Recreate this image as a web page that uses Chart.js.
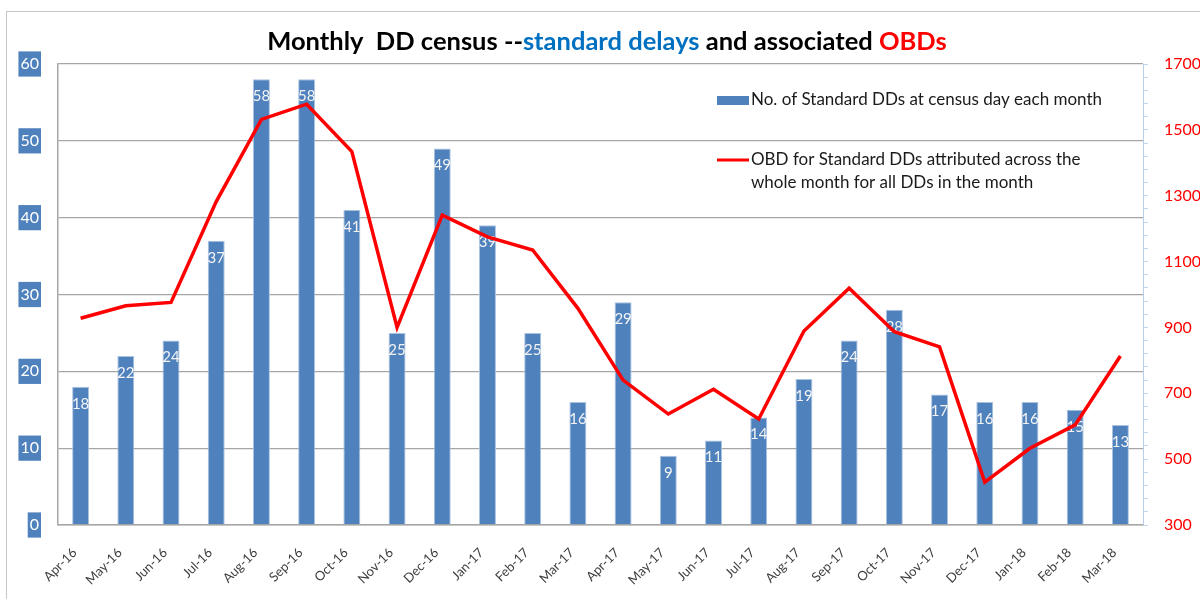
<!DOCTYPE html>
<html>
<head>
<meta charset="utf-8">
<title>Monthly DD census</title>
<script src="https://cdn.jsdelivr.net/npm/chart.js@4.4.1/dist/chart.umd.min.js"></script>
<style>
  body { margin: 0; background: #fff; }
  #frame { position: absolute; left: 6px; top: 11px; width: 1210px; height: 600px; border: 1px solid #c6c6c6; }
  #wrap { position: absolute; left: 0; top: 0; width: 1200px; height: 599px; }
</style>
</head>
<body>
<div id="frame"></div>
<div id="wrap"><canvas id="ddChart"></canvas></div>
<script>
// months on the x axis
const months = ['Apr-16', 'May-16', 'Jun-16', 'Jul-16', 'Aug-16', 'Sep-16', 'Oct-16', 'Nov-16', 'Dec-16',
    'Jan-17', 'Feb-17', 'Mar-17', 'Apr-17', 'May-17', 'Jun-17', 'Jul-17', 'Aug-17', 'Sep-17', 'Oct-17',
    'Nov-17', 'Dec-17', 'Jan-18', 'Feb-18', 'Mar-18'];

// bars: number of standard DDs on census day
const standardDDs = [18, 22, 24, 37, 58, 58, 41, 25, 49, 39, 25, 16, 29, 9, 11, 14, 19, 24, 28, 17, 16, 16, 15, 13];

// line: OBDs
const obdValues = [928, 966, 976, 1282, 1532, 1578, 1434, 900, 1241, 1175, 1135, 958,
    740, 637, 712, 622, 889, 1019, 887, 841, 430, 533, 604, 813];

// axis ranges
const leftMin = 0, leftMax = 60, leftStep = 10;
const rightMin = 300, rightMax = 1700, rightStep = 40, rightLabelStep = 200;

const barLabel = 'No. of Standard DDs at census day each month';
const lineLabel = ['OBD for Standard DDs attributed across the', 'whole month for all DDs in the month'];

const titleParts = [
    { text: 'Monthly  DD census --', color: '#000000' },
    { text: 'standard delays', color: '#0070C0' },
    { text: ' and associated ', color: '#000000' },
    { text: 'OBDs', color: '#FF0000' },
];

const fontFam = 'Lato, "Open Sans", sans-serif';

// title drawn in several colours
const titlePlugin = {
    id: 'multiTitle',
    afterDraw(chart) {
        const ctx = chart.ctx;
        ctx.save();
        ctx.font = 'bold 25.5px ' + fontFam;
        ctx.textBaseline = 'middle';
        ctx.textAlign = 'left';
        const total = titleParts.reduce((s, p) => s + ctx.measureText(p.text).width, 0);
        let x = 607 - total / 2;
        titleParts.forEach((p) => {
            ctx.fillStyle = p.color;
            ctx.fillText(p.text, x, 42);
            x += ctx.measureText(p.text).width;
        });
        ctx.restore();
    }
};

// white values inside the top of each bar
const barValuePlugin = {
    id: 'barValues',
    afterDatasetDraw(chart, args) {
        if (args.index !== 0) return;
        const ctx = chart.ctx;
        ctx.save();
        ctx.font = '15px ' + fontFam;
        ctx.fillStyle = '#f4f4f4';
        ctx.textAlign = 'center';
        ctx.textBaseline = 'middle';
        args.meta.data.forEach((bar, i) => {
            ctx.fillText(String(standardDDs[i]), bar.x, bar.y + 17);
        });
        ctx.restore();
    }
};

// legend placed inside the plot like the original
const legendPlugin = {
    id: 'insideLegend',
    afterDraw(chart) {
        const ctx = chart.ctx;
        ctx.save();
        ctx.font = '17px ' + fontFam;
        ctx.textBaseline = 'middle';
        ctx.textAlign = 'left';
        ctx.fillStyle = '#4F81BD';
        ctx.fillRect(717, 96, 32, 9);
        ctx.fillStyle = '#1a1a1a';
        ctx.fillText(barLabel, 751, 100);
        ctx.strokeStyle = '#FF0000';
        ctx.lineWidth = 3;
        ctx.beginPath();
        ctx.moveTo(717, 160);
        ctx.lineTo(749, 160);
        ctx.stroke();
        ctx.fillText(lineLabel[0], 751, 160);
        ctx.fillText(lineLabel[1], 751, 183);
        ctx.restore();
    }
};

const ctx = document.getElementById('ddChart').getContext('2d');

new Chart(ctx, {
    type: 'bar',
    data: {
        labels: months,
        datasets: [
            {
                type: 'bar',
                label: barLabel,
                data: standardDDs,
                yAxisID: 'y',
                backgroundColor: '#4F81BD',
                borderColor: '#a9c2e0',
                borderWidth: 1,
                barPercentage: 0.75,
                categoryPercentage: 0.5,
                order: 2,
            },
            {
                type: 'line',
                label: lineLabel.join(' '),
                data: obdValues,
                yAxisID: 'y2',
                borderColor: '#FF0000',
                backgroundColor: '#FF0000',
                borderWidth: 3.5,
                pointRadius: 0,
                tension: 0,
                order: 1,
            },
        ],
    },
    options: {
        responsive: true,
        maintainAspectRatio: false,
        animation: false,
        layout: { padding: { top: 64, left: 0, right: 0, bottom: 0 } },
        plugins: {
            legend: { display: false },
            title: { display: false },
            tooltip: { enabled: false },
        },
        scales: {
            x: {
                grid: { display: false, drawTicks: false },
                border: { display: true, color: '#a6a6a6', width: 1.5 },
                ticks: {
                    minRotation: 45,
                    maxRotation: 45,
                    autoSkip: false,
                    padding: 20,
                    labelOffset: -6,
                    color: '#404040',
                    font: { family: fontFam, size: 13 },
                },
                afterFit(scale) { scale.height = 74; },
            },
            y: {
                position: 'left',
                min: leftMin,
                max: leftMax,
                ticks: {
                    stepSize: leftStep,
                    color: '#ffffff',
                    padding: 19,
                    font: { family: fontFam, size: 16 },
                    showLabelBackdrop: true,
                    backdropColor: '#4F81BD',
                    backdropPadding: { x: 2, y: 3 },
                },
                grid: { color: '#a6a6a6', lineWidth: 1.3, drawTicks: false },
                border: { display: true, color: '#a6a6a6', width: 1.5 },
                afterFit(scale) { scale.width = 58; },
            },
            y2: {
                position: 'right',
                min: rightMin,
                max: rightMax,
                ticks: {
                    stepSize: rightStep,
                    autoSkip: false,
                    color: '#FF0000',
                    padding: 16,
                    font: { family: fontFam, size: 16 },
                    callback: (v) => ((v - rightMin) % rightLabelStep === 0 ? v : ''),
                },
                grid: { drawOnChartArea: false, color: '#c5d5ea', tickLength: 5 },
                border: { display: true, color: '#b9cde5', width: 1 },
                afterFit(scale) { scale.width = 57; },
            },
        },
    },
    plugins: [barValuePlugin, titlePlugin, legendPlugin],
});
</script>
</body>
</html>
